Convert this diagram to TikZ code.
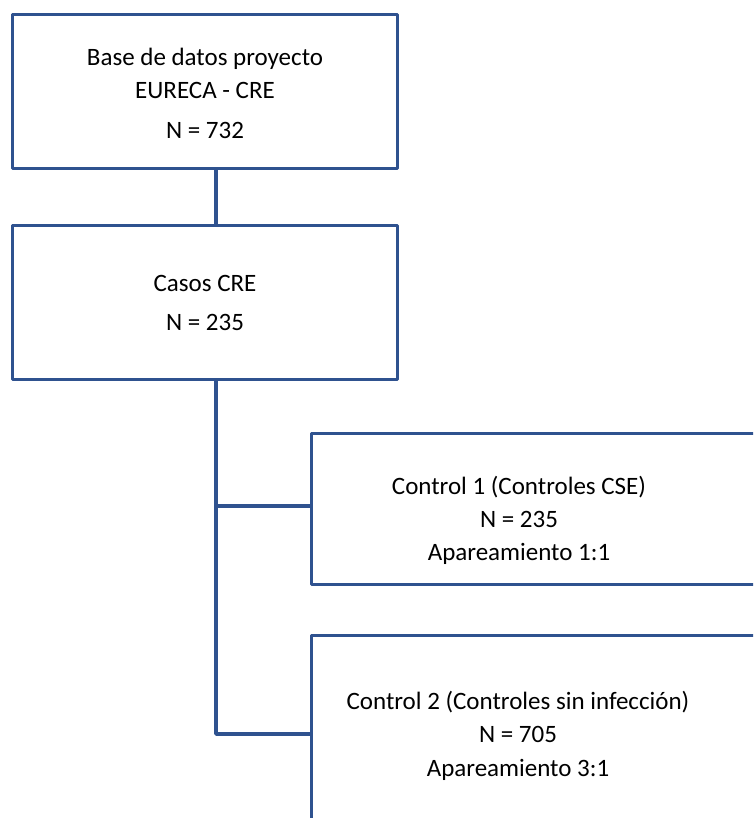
\documentclass[tikz,border=0pt]{standalone}
\usepackage{fontspec}
\setmainfont{Carlito}
\definecolor{boxblue}{RGB}{47,82,143}
\begin{document}
\begin{tikzpicture}[x=1pt,y=-1pt,
  box/.style={draw=boxblue, line width=3.4pt, rectangle, inner sep=0pt, line join=round},
  conn/.style={draw=boxblue, line width=3.4pt},
  txt/.style={align=center, inner sep=0pt, font=\fontsize{25}{33}\selectfont}]
\useasboundingbox (0,0) rectangle (753,818);
\clip (0,0) rectangle (753,818);
\node[box, minimum width=385pt, minimum height=154pt] (b1) at (205,91.5) {};
\node[box, minimum width=385pt, minimum height=154pt] (b2) at (205,302.5) {};
\node[box, minimum width=490pt, minimum height=151pt] (b3) at (556.5,509) {};
\node[box, minimum width=490pt, minimum height=215pt] (b4) at (556.5,743) {};
\node[txt] (t1) at (205,93) {Base de datos proyecto\\EURECA - CRE\\[7pt]N = 732};
\node[txt] (t2) at (205,303) {Casos CRE\\[6pt]N = 235};
\node[txt] (t3) at (519,520) {Control 1 (Controles CSE)\\N = 235\\Apareamiento 1:1};
\node[txt] (t4) at (518,736) {Control 2 (Controles sin infección)\\N = 705\\[1pt]Apareamiento 3:1};
\coordinate (j1) at (216,506);
\coordinate (j2) at (216,734);
\draw[conn] (b1.south -| j1) -- (b2.north -| j1);
\draw[conn, line join=round] (b2.south -| j1) -- (j2) -- (j2 -| b4.west);
\draw[conn] (j1) -- (j1 -| b3.west);
\end{tikzpicture}
\end{document}
